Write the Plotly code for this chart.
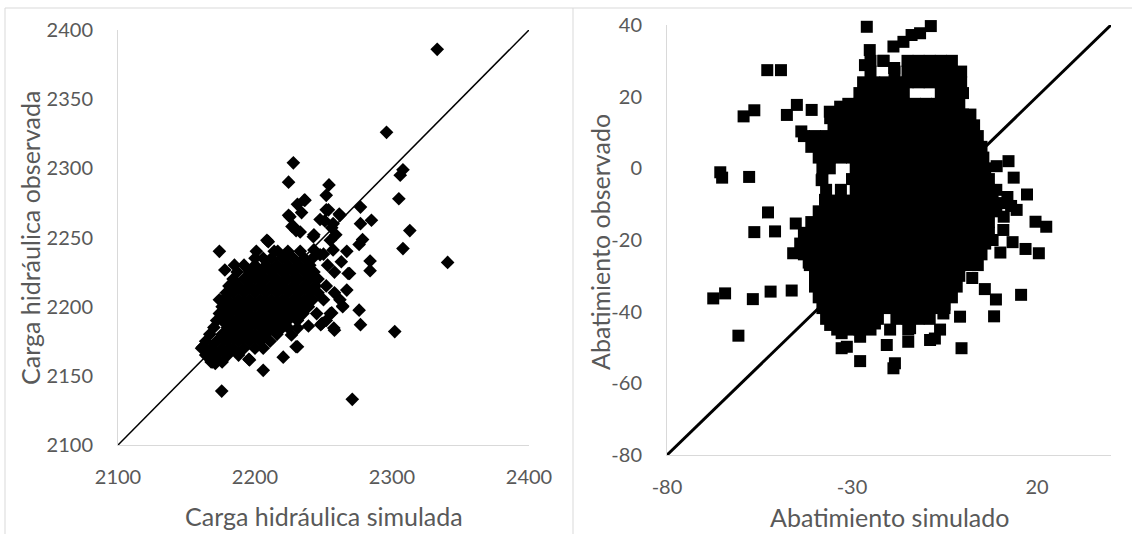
import plotly.graph_objects as go

# ---------------- Left panel: Carga hidráulica ----------------
carga_ticks_x = [2100, 2200, 2300, 2400]
carga_ticks_y = [2100, 2150, 2200, 2250, 2300, 2350, 2400]

# dense core of the cloud, read row by row: (observada, [simulada ...])
carga_core_rows = [
    (2160, [2168, 2176]),
    (2165, [2164, 2172, 2180, 2188]),
    (2170, [2161, 2168, 2176, 2184, 2192, 2200, 2206]),
    (2175, [2164, 2172, 2180, 2188, 2196, 2204, 2211]),
    (2180, [2167, 2176, 2184, 2192, 2200, 2208, 2216]),
    (2185, [2170, 2180, 2188, 2196, 2204, 2212, 2220, 2224]),
    (2190, [2172, 2176, 2184, 2192, 2200, 2208, 2216, 2224, 2231]),
    (2195, [2174, 2180, 2188, 2196, 2204, 2212, 2220, 2228, 2235]),
    (2200, [2176, 2184, 2192, 2200, 2208, 2216, 2224, 2232, 2239]),
    (2205, [2177, 2180, 2188, 2196, 2204, 2212, 2220, 2228, 2236, 2242]),
    (2210, [2179, 2184, 2192, 2200, 2208, 2216, 2224, 2232, 2240, 2246]),
    (2215, [2181, 2188, 2196, 2204, 2212, 2220, 2228, 2236, 2244]),
    (2220, [2184, 2192, 2200, 2208, 2216, 2224, 2232, 2240, 2246]),
    (2225, [2187, 2196, 2204, 2212, 2220, 2228, 2236, 2243]),
    (2230, [2192, 2200, 2208, 2216, 2224, 2232, 2240]),
    (2235, [2200, 2206, 2212, 2220, 2228, 2236, 2242]),
    (2240, [2214, 2224, 2233]),
]

carga_sim_sparse = [
    2333, 2296, 2228, 2224.5, 2308, 2306, 2305, 2313, 2308, 2340.6, 2302, 2271,
    2175.7, 2206, 2195.5, 2220.6, 2231, 2169, 2174, 2254, 2252, 2236, 2231, 2234,
    2224.5, 2227, 2230, 2253.6, 2261.5, 2251, 2256, 2259, 2277, 2277, 2285, 2278.5,
    2276, 2267, 2243, 2208.7, 2201, 2284, 2284, 2263, 2269, 2267, 2264, 2276,
    2277, 2257.5, 2248, 2256, 2239, 2231, 2226.6, 2174, 2178, 2185, 2216.6, 2243,
    2247.5, 2182, 2172, 2180.5, 2162, 2171, 2196, 2230, 2242.6, 2255, 2257, 2268,
    2264, 2258, 2249, 2255, 2209.7, 2225.5, 2236.5, 2247.5, 2257, 2262, 2252, 2233,
    2228, 2250, 2253, 2258, 2252, 2258, 2250, 2262, 2245, 2252,
]
carga_obs_sparse = [
    2386, 2326, 2304, 2290, 2299, 2295, 2278, 2255, 2242, 2232, 2182, 2133,
    2139, 2154, 2162, 2163.5, 2171, 2160, 2240, 2288, 2280.5, 2277, 2274, 2268,
    2266, 2258, 2255, 2270, 2267, 2262, 2257, 2252, 2272, 2260, 2262.5, 2248.5,
    2245, 2240, 2252, 2248, 2240, 2233, 2226, 2232.5, 2224, 2212, 2200.5, 2197.5,
    2187, 2184.5, 2187, 2195.5, 2186, 2184.5, 2179.6, 2205, 2226.5, 2230, 2240, 2241,
    2237.5, 2168.5, 2161, 2211, 2171, 2159, 2161.5, 2171, 2250.6, 2248, 2241, 2224,
    2200, 2183, 2188, 2195, 2247, 2265, 2277, 2263, 2260, 2266, 2270, 2254,
    2258, 2238, 2230, 2225, 2215, 2210, 2205, 2205, 2195, 2190,
]

# ---------------- Right panel: Abatimiento ----------------
abat_ticks_x = [-80, -30, 20]
abat_ticks_x_text = ["-80", "-30", "20"]
abat_ticks_y = [-80, -60, -40, -20, 0, 20, 40]
abat_ticks_y_text = ["-80", "-60", "-40", "-20", "0", "20", "40"]

abat_core_rows = [
    (30, [-25, -21.5, -15, -12, -9, -6, -3]),
    (27, [-25, -18.5, -15, -12, -9, -6, -3, -0.5]),
    (24, [-27, -24, -21, -18, -15, -12, -9, -6, -3, -0.5]),
    (21, [-28, -25, -22, -19, -16, -6, -3, 0]),
    (18, [-31, -28, -25, -22, -19, -16, -13, -10, -7, -4, -1]),
    (15, [-33, -30, -27, -24, -21, -18, -15, -12, -9, -6, -3, 0, 2]),
    (12, [-35, -32, -29, -26, -23, -20, -17, -14, -11, -8, -5, -2, 1, 3]),
    (9, [-43, -40, -37, -34, -31, -28, -25, -22, -19, -16, -13, -10, -7, -4, -1, 2, 4]),
    (6, [-41, -38, -35, -32, -29, -26, -23, -20, -17, -14, -11, -8, -5, -2, 1, 4, 5]),
    (3, [-39, -36, -33, -30, -27, -24, -21, -18, -15, -12, -9, -6, -3, 0, 3, 5.5]),
    (0, [-38, -36, -29, -27, -24, -21, -18, -15, -12, -9, -6, -3, 0, 3, 6]),
    (-3, [-38, -30, -28, -25, -22, -19, -16, -13, -10, -7, -4, -1, 2, 5, 7]),
    (-6, [-37, -33, -29, -26, -23, -20, -17, -14, -11, -8, -5, -2, 1, 4, 7]),
    (-9, [-37, -34, -31, -28, -25, -22, -19, -16, -13, -10, -7, -4, -1, 2, 5, 8]),
    (-12, [-39, -36, -33, -30, -27, -24, -21, -18, -15, -12, -9, -6, -3, 0, 3, 6, 9]),
    (-15, [-41, -38, -35, -32, -29, -26, -23, -20, -17, -14, -11, -8, -5, -2, 1, 4, 7]),
    (-18, [-43, -40, -37, -34, -31, -28, -25, -22, -19, -16, -13, -10, -7, -4, -1, 2, 5, 7]),
    (-21, [-44, -41, -38, -35, -32, -29, -26, -23, -20, -17, -14, -11, -8, -5, -2, 1, 4, 6]),
    (-24, [-43, -40, -37, -34, -31, -28, -25, -22, -19, -16, -13, -10, -7, -4, -1, 2, 5]),
    (-27, [-40, -37, -34, -31, -28, -25, -22, -19, -16, -13, -10, -7, -4, -1, 2, 4]),
    (-30, [-40, -37, -34, -31, -28, -25, -22, -19, -16, -13, -10, -7, -4, -1]),
    (-33, [-40, -37, -34, -31, -28, -25, -22, -19, -16, -13, -10, -7, -4, -1.7]),
    (-36, [-39, -36, -33, -30, -27, -24, -21, -18, -15, -12, -9, -6, -3]),
    (-39, [-38, -35, -32, -29, -26, -23, -20, -17, -14, -11, -8, -5]),
    (-42, [-37, -34, -31, -28, -25, -23, -18, -15, -12, -9]),
    (-45, [-34, -31, -28, -25, -19.7, -14.8, -6.2]),
]

abat_sim_sparse = [
    -26.0, -8.7, -18.8, -16.1, -13.9, -11.6, -25.2, -26.5, -21.5, -18.6,
    -52.9, -49.2, -59.3, -56.4, -47.6, -44.9, -40.9, -36.0, -33.2, -35.9,
    -43.7, -40.3, -65.6, -65.1, -57.8, -52.7, -56.4, -50.8, -45.2, -45.9,
    -41.7, -41.4, -38.2, -37.3, -67.5, -64.3, -56.8, -52.0, -46.3, -60.7,
    -35.9, -32.8, -31.4, -27.8, -20.6, -14.8, -14.3, -8.9, -7.6, -18.8,
    -18.4, -0.4, -0.8, 9.1, 12.3, 13.7, 17.3, 19.6, 22.5, 13.4,
    16.9, 20.5, 10.1, 15.7, 2.5, 5.9, 8.9, 8.4, 10.5, 13.0,
    14.5, 9.0, 11.0, 10.9, 8.0, 12.0, -32.8, -27.8, -5.3, -5.0,
    -23.8,
]
abat_obs_sparse = [
    39.5, 39.7, 34.0, 35.3, 37.2, 37.7, 33.0, 28.8, 30.0, 28.0,
    27.4, 27.4, 14.5, 16.2, 14.9, 17.7, 16.3, 15.8, 17.2, 14.0,
    10.3, 6.9, -1.1, -2.6, -2.4, -12.3, -17.8, -17.6, -15.4, -23.7,
    -26.3, -27.0, -3.3, -8.8, -36.3, -34.9, -36.5, -34.4, -34.1, -46.7,
    -43.7, -50.2, -49.8, -53.8, -49.3, -48.4, -44.6, -47.9, -47.5, -55.8,
    -54.4, -50.2, -41.4, 0.6, 2.0, -2.6, -7.3, -14.9, -16.3, -20.6,
    -22.5, -23.7, -23.5, -35.3, -30.6, -33.7, -36.6, -41.3, -9.7, -10.5,
    -11.6, -6.0, -13.5, -17.2, -20.0, -8.0, -46.0, -47.0, -40.5, -38.0,
    -43.3,
]


def expand(rows, xs_extra, ys_extra):
    xs, ys = [], []
    for yv, row in rows:
        for xv in row:
            xs.append(xv)
            ys.append(yv)
    return xs + list(xs_extra), ys + list(ys_extra)


cx, cy = expand(carga_core_rows, carga_sim_sparse, carga_obs_sparse)
ax, ay = expand(abat_core_rows, abat_sim_sparse, abat_obs_sparse)

W, H = 1132, 534
GRAY = "#595959"
LINE = "#d9d9d9"
FONT = "Lato"

fig = go.Figure()

fig.add_trace(go.Scatter(
    x=[carga_ticks_x[0], carga_ticks_x[-1]], y=[carga_ticks_y[0], carga_ticks_y[-1]],
    mode="lines", line=dict(color="black", width=1.5),
    xaxis="x", yaxis="y", showlegend=False, hoverinfo="skip"))
fig.add_trace(go.Scatter(
    x=cx, y=cy, mode="markers",
    marker=dict(symbol="diamond", size=10.5, color="black", line=dict(width=0)),
    xaxis="x", yaxis="y", showlegend=False, cliponaxis=False))

fig.add_trace(go.Scatter(
    x=[abat_ticks_x[0], 40], y=[abat_ticks_y[0], abat_ticks_y[-1]],
    mode="lines", line=dict(color="black", width=3),
    xaxis="x2", yaxis="y2", showlegend=False, hoverinfo="skip"))
fig.add_trace(go.Scatter(
    x=ax, y=ay, mode="markers",
    marker=dict(symbol="square", size=12, color="black", line=dict(width=0)),
    xaxis="x2", yaxis="y2", showlegend=False, cliponaxis=False))

axis_common = dict(showgrid=False, zeroline=False, showline=True, linecolor=LINE,
                   linewidth=1, ticks="outside", tickcolor="rgba(0,0,0,0)",
                   automargin=False,
                   tickfont=dict(family=FONT, size=20, color=GRAY), fixedrange=True)

fig.update_layout(
    width=W, height=H,
    margin=dict(l=0, r=0, t=0, b=0, autoexpand=False),
    paper_bgcolor="white", plot_bgcolor="white",
    xaxis=dict(domain=[118 / W, 529 / W], range=[2100, 2400], tickvals=carga_ticks_x,
               ticklen=14, anchor="y", **axis_common),
    yaxis=dict(domain=[1 - 445 / H, 1 - 30 / H], range=[2100, 2400], tickvals=carga_ticks_y,
               ticklen=20, anchor="x", **axis_common),
    xaxis2=dict(domain=[667 / W, 1111 / W], range=[-80, 40], tickvals=abat_ticks_x,
                ticktext=abat_ticks_x_text, ticklen=14, anchor="y2", **axis_common),
    yaxis2=dict(domain=[1 - 455 / H, 1 - 25 / H], range=[-80, 40], tickvals=abat_ticks_y,
                ticktext=abat_ticks_y_text, ticklen=20, anchor="x2", **axis_common),
    showlegend=False,
)

title_font = dict(family=FONT, size=25, color=GRAY)
fig.add_annotation(text="Carga hidráulica simulada", x=323.5 / W, y=1 - 516 / H,
                   xref="paper", yref="paper", showarrow=False, font=title_font,
                   xanchor="center", yanchor="middle")
fig.add_annotation(text="Carga hidráulica observada", x=30 / W, y=1 - 238 / H,
                   xref="paper", yref="paper", showarrow=False, font=title_font,
                   textangle=-90, xanchor="center", yanchor="middle")
fig.add_annotation(text="Abatimiento simulado", x=889 / W, y=1 - 517 / H,
                   xref="paper", yref="paper", showarrow=False, font=title_font,
                   xanchor="center", yanchor="middle")
fig.add_annotation(text="Abatimiento observado", x=600 / W, y=1 - 242 / H,
                   xref="paper", yref="paper", showarrow=False, font=title_font,
                   textangle=-90, xanchor="center", yanchor="middle")

# chart-area borders
for x0, y0, x1, y1 in [(5, 8, W, 8), (5, 8, 5, H), (573, 8, 573, H)]:
    fig.add_shape(type="line", xref="paper", yref="paper",
                  x0=x0 / W, x1=x1 / W, y0=1 - y0 / H, y1=1 - y1 / H,
                  line=dict(color=LINE, width=1))

fig.write_html("out.html", config={"displayModeBar": False},
               post_script="document.body.style.margin='0px';document.body.style.overflow='hidden';")
